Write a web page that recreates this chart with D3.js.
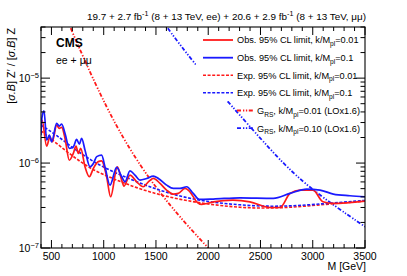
<!DOCTYPE html>
<html><head><meta charset="utf-8">
<script src="https://cdn.jsdelivr.net/npm/d3@7"></script>
<style>body{margin:0;background:#fff}svg{display:block;font-family:"Liberation Sans",Arial,sans-serif}</style>
</head><body><svg id="c" width="407" height="276"></svg>
<script>
// ---- data (values in units of 1e-6) ----
const obsRedMass = [400,410,454,486,508,550,575,598,630,671,709,735,757,780,821,862,901,948,980,1028,1066,1130,1172,1194,1251,1315,1379,1427,1475,1539,1602,1666,1714,1778,1825,1889,1937,2049,2237,2399,2591,2687,2782,2878,3002,3098,3194,3500];
const obsRedVal  = [3.0,3.2,1.58,2.04,1.78,2.80,2.56,2.63,1.95,1.08,1.30,1.58,1.30,1.49,0.904,0.690,0.864,1.04,1.06,0.690,0.401,0.904,0.630,0.536,0.722,0.602,0.526,0.602,0.659,0.576,0.481,0.431,0.439,0.503,0.459,0.350,0.326,0.350,0.366,0.350,0.300,0.300,0.439,0.481,0.481,0.350,0.335,0.357];
const obsBlueMass = [400,406,429,454,480,502,550,575,598,630,671,709,741,767,789,821,869,901,933,980,1012,1060,1124,1172,1204,1251,1299,1347,1411,1475,1523,1602,1666,1730,1794,1857,1915,2049,2304,2623,2782,2942,3069,3197,3356,3500];
const obsBlueVal  = [2.13,3.2,4.12,1.86,2.13,1.78,2.93,2.72,2.88,2.23,1.49,1.55,1.90,1.67,1.95,1.42,0.904,0.99,1.19,1.24,0.904,0.550,0.888,0.690,0.602,0.811,0.722,0.630,0.659,0.702,0.659,0.550,0.503,0.503,0.526,0.439,0.373,0.377,0.390,0.384,0.439,0.494,0.481,0.431,0.412,0.401];
const expMass    = [400,550,709,869,1028,1347,1666,1985,2304,2623,2942,3261,3500];
const expRedVal  = [2.4,1.70,1.19,0.864,0.702,0.489,0.384,0.329,0.298,0.292,0.311,0.338,0.357];
const expBlueVal = [2.8,2.13,1.49,1.10,0.849,0.576,0.420,0.350,0.320,0.306,0.320,0.344,0.363];
const grsRedMass = [600,677,1029,1347,1666,1998,2100];
const grsRedVal  = [70,39.8,4.2,0.906,0.280,0.100,0.075];
const grsBlueMass = [1550,1603,1890,2192,2623,2942,3500];
const grsBlueVal  = [50,39.8,13.6,5.25,1.30,0.527,0.178];
const xMajorTicks = [500,1000,1500,2000,2500,3000,3500];
const yMajorExp = [-7,-6,-5];
const legendLabels = [
  [["Obs. 95% CL limit, k/M","n"],["pl","sub"],["=0.01","n"]],
  [["Obs. 95% CL limit, k/M","n"],["pl","sub"],["=0.1","n"]],
  [["Exp. 95% CL limit, k/M","n"],["pl","sub"],["=0.01","n"]],
  [["Exp. 95% CL limit, k/M","n"],["pl","sub"],["=0.1","n"]],
  [["G","n"],["RS","sub"],[", k/M","n"],["pl","sub"],["=0.01 (LOx1.6)","n"]],
  [["G","n"],["RS","sub"],[", k/M","n"],["pl","sub"],["=0.10 (LOx1.6)","n"]]
];

const svg = d3.select("#c");
const L=41,R=365,T=27,B=248;
const x = d3.scaleLinear().domain([400,3500]).range([L,R]);
const y = d3.scaleLog().domain([1e-7,4e-5]).range([B,T]);

svg.append("clipPath").attr("id","clip").append("rect").attr("x",L).attr("y",T).attr("width",R-L).attr("height",B-T);

function rich(t, parts, fs){
  let shift=0;
  parts.forEach(([s,m])=>{
    const tgt = m==="sup" ? -0.42*fs : m==="sub" ? 0.32*fs : 0;
    t.append("tspan").attr("dy",tgt-shift).attr("font-size",m==="n"?fs:fs*0.72).text(s);
    shift=tgt;
  });
}

const g = svg.append("g").attr("clip-path","url(#clip)");
function drawLine(ms, vs, color, w, dash, curve){
  const pts = ms.map((m,i)=>[m,vs[i]*1e-6]);
  g.append("path").datum(pts)
   .attr("d", d3.line().x(d=>x(d[0])).y(d=>y(d[1])).curve(curve||d3.curveMonotoneX))
   .attr("fill","none").attr("stroke",color).attr("stroke-width",w)
   .attr("stroke-dasharray",dash||null);
}
const RED="#ff1a1a", BLUE="#1a1aff";
const dashExp="3,1.6", dashG="4,2,1.3,1.6,1.3,1.6";
drawLine(grsRedMass,grsRedVal,RED,1.8,dashG,d3.curveBasis);
drawLine(grsBlueMass,grsBlueVal,BLUE,1.8,dashG,d3.curveBasis);
drawLine(expMass,expRedVal,RED,1.6,dashExp,d3.curveBasis);
drawLine(expMass,expBlueVal,BLUE,1.6,dashExp,d3.curveBasis);
drawLine(obsRedMass,obsRedVal,RED,1.7);
drawLine(obsBlueMass,obsBlueVal,BLUE,1.7);

// legend (first block with white fill)
svg.append("rect").attr("x",196).attr("y",29).attr("width",168).attr("height",72).attr("fill","#fff");
const legStyles=[[RED,null,1.8],[BLUE,null,1.8],[RED,dashExp,1.6],[BLUE,dashExp,1.6],[RED,dashG,1.8],[BLUE,dashG,1.8]];
const rowY=[40,57.7,75.2,92.8,110.5,128.2];
legendLabels.forEach((lab,i)=>{
  const gRS = i>=4;
  const x0 = gRS?237:203, x1 = gRS?253:233, tx = gRS?257:237;
  svg.append("line").attr("x1",x0).attr("x2",x1).attr("y1",rowY[i]).attr("y2",rowY[i])
    .attr("stroke",legStyles[i][0]).attr("stroke-width",legStyles[i][2]).attr("stroke-dasharray",legStyles[i][1]);
  const t=svg.append("text").attr("x",tx).attr("y",rowY[i]+3.3).attr("fill","#000");
  rich(t,lab,9.2);
});

// axes ticks (ROOT style, inside, all four sides)
const ax = svg.append("g").attr("stroke","#000").attr("stroke-width",1);
const xMinor = d3.range(400,3501,100);
xMinor.forEach(m=>{
  const major = xMajorTicks.includes(m);
  const len = major?8:4;
  ax.append("line").attr("x1",x(m)).attr("x2",x(m)).attr("y1",B).attr("y2",B-len);
  ax.append("line").attr("x1",x(m)).attr("x2",x(m)).attr("y1",T).attr("y2",T+len);
});
const yTicksAll=[];
for(let e=-7;e<=-5;e++) for(let k=1;k<=9;k++){const v=k*Math.pow(10,e); if(v<=4.0001e-5) yTicksAll.push([v,k===1]);}
yTicksAll.forEach(([v,major])=>{
  const len = major?9:4.5;
  ax.append("line").attr("x1",L).attr("x2",L+len).attr("y1",y(v)).attr("y2",y(v));
  ax.append("line").attr("x1",R).attr("x2",R-len).attr("y1",y(v)).attr("y2",y(v));
});
svg.append("rect").attr("x",L).attr("y",T).attr("width",R-L).attr("height",B-T)
  .attr("fill","none").attr("stroke","#000").attr("stroke-width",1.1);

// tick labels
xMajorTicks.forEach(m=>{
  svg.append("text").attr("x",x(m)).attr("y",259.5).attr("text-anchor","middle").attr("font-size",10.5).text(m);
});
yMajorExp.forEach(e=>{
  const t=svg.append("text").attr("x",39).attr("y",y(Math.pow(10,e))+4).attr("text-anchor","end");
  rich(t,[["10","n"],["\u2212"+(-e),"sup"]],10.5);
});

// axis titles
svg.append("text").attr("x",366).attr("y",269.5).attr("text-anchor","end").attr("font-size",10.5).text("M [GeV]");
const yt=svg.append("text").attr("transform","translate(14.5,28) rotate(-90)").attr("text-anchor","end").attr("font-size",10.8);
yt.append("tspan").text("[");
yt.append("tspan").attr("font-style","italic").text("\u03c3.B");
yt.append("tspan").text("] Z\u2032 / [");
yt.append("tspan").attr("font-style","italic").text("\u03c3.B");
yt.append("tspan").text("] Z");

// header
const ht=svg.append("text").attr("x",366).attr("y",20).attr("text-anchor","end").attr("fill","#000");
rich(ht,[["19.7 + 2.7 fb","n"],["-1","sup"],[" (8 + 13 TeV, ee) + 20.6 + 2.9 fb","n"],["-1","sup"],[" (8 + 13 TeV, \u03bc\u03bc)","n"]],9.9);
svg.append("text").attr("x",56).attr("y",47).attr("font-weight","bold").attr("font-size",12).text("CMS");
svg.append("text").attr("x",56).attr("y",64).attr("font-size",10.5).text("ee + \u03bc\u03bc");
</script></body></html>
